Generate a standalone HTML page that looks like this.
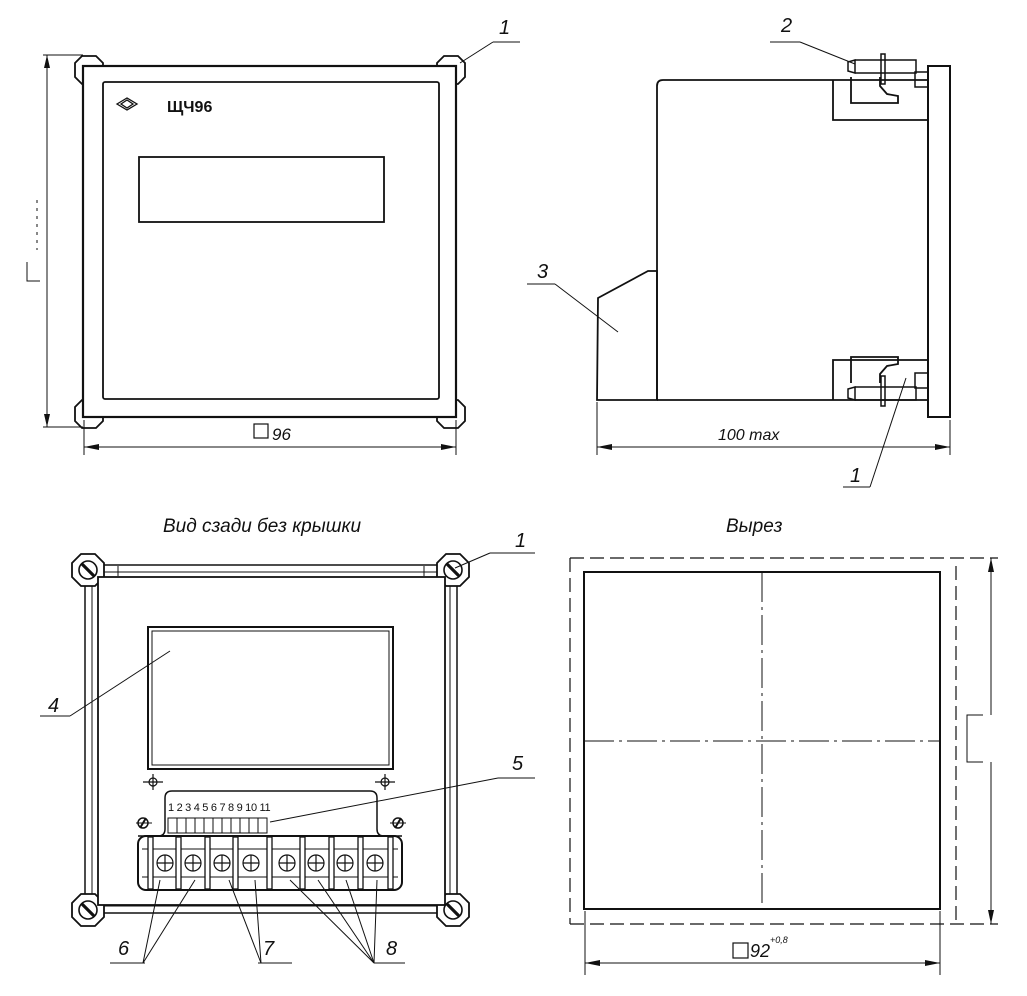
<!DOCTYPE html>
<html><head><meta charset="utf-8"><style>
html,body{margin:0;padding:0;background:#fff}
svg{display:block}
text{font-family:"Liberation Sans","DejaVu Sans",sans-serif;font-style:italic;fill:#111}
text.up{font-style:normal}
</style></head><body>
<svg width="1027" height="996" viewBox="0 0 1027 996" xmlns="http://www.w3.org/2000/svg">
<defs>
<g id="oct"><polygon points="-7,-14 7,-14 14,-7 14,7 7,14 -7,14 -14,7 -14,-7" fill="#fff" stroke="#111" stroke-width="1.8"/></g>
<g id="scr"><polygon points="-7,-16 7,-16 16,-7 16,7 7,16 -7,16 -16,7 -16,-7" fill="#fff" stroke="#111" stroke-width="1.8"/><circle r="9" fill="#fff" stroke="#111" stroke-width="1.6"/><line x1="-6" y1="-6" x2="6" y2="6" stroke="#111" stroke-width="3.2"/></g>
</defs>
<g fill="none" stroke="#111" stroke-width="1.8">
<!-- FRONT VIEW -->
<use href="#oct" x="89" y="70"/><use href="#oct" x="451" y="70"/>
<use href="#oct" x="89" y="414"/><use href="#oct" x="451" y="414"/>
<rect x="83" y="66" width="373" height="351" fill="#fff" stroke-width="2.2"/>
<rect x="103" y="82" width="336" height="317" rx="2"/>
<rect x="139" y="157" width="245" height="65"/>
<g stroke-width="1.3"><polygon points="117,104 127,98 137,104 127,110"/><polygon points="121,104 127,100 133,104 127,108"/></g>
<g stroke-width="1"><line x1="43" y1="55" x2="83" y2="55"/><line x1="43" y1="427" x2="83" y2="427"/>
<line x1="47" y1="55" x2="47" y2="427"/><line x1="84" y1="420" x2="84" y2="455"/><line x1="456" y1="420" x2="456" y2="455"/>
<line x1="84" y1="447" x2="456" y2="447"/>
<polyline points="27,262 27,281 40,281"/><line x1="37" y1="200" x2="37" y2="250" stroke-dasharray="3 5"/>
<line x1="460" y1="63" x2="493" y2="42"/><line x1="493" y1="42" x2="520" y2="42"/></g>
<polygon points="47,55 44,68 50,68" fill="#111" stroke="none"/><polygon points="47,427 44,414 50,414" fill="#111" stroke="none"/>
<polygon points="84,447 99,444 99,450" fill="#111" stroke="none"/><polygon points="456,447 441,444 441,450" fill="#111" stroke="none"/>
<rect x="254" y="424" width="14" height="14" stroke-width="1.2"/>
<!-- SIDE VIEW -->
<path d="M657,400 L657,86 Q657,80 663,80 L928,80"/>
<path d="M657,400 L928,400"/>
<rect x="928" y="66" width="22" height="351" stroke-width="2"/>
<polyline points="833,80 833,120 928,120"/><polyline points="833,400 833,360 928,360"/>
<polygon points="657,271 648,271 598,298 597,400 657,400"/>
<path d="M851,77 L851,103 L898,103 L898,96 L887,94 L880,86 L880,77"/>
<path d="M851,383 L851,357 L898,357 L898,364 L887,366 L880,374 L880,383"/>
<g stroke-width="1.5">
<path d="M855,60 L916,60 L916,73 L855,73 Z M848,62 L855,60 L855,73 L848,71 Z"/>
<rect x="881" y="54" width="4" height="30"/><rect x="915" y="72" width="13" height="15"/>
<path d="M855,387 L916,387 L916,400 L855,400 Z M848,389 L855,387 L855,400 L848,398 Z"/>
<rect x="881" y="376" width="4" height="30"/><rect x="915" y="373" width="13" height="15"/></g>
<g stroke-width="1"><line x1="597" y1="402" x2="597" y2="455"/><line x1="950" y1="420" x2="950" y2="455"/>
<line x1="597" y1="447" x2="950" y2="447"/>
<line x1="770" y1="42" x2="800" y2="42"/><line x1="800" y1="42" x2="855" y2="64"/>
<line x1="527" y1="284" x2="555" y2="284"/><line x1="555" y1="284" x2="618" y2="332"/>
<line x1="843" y1="487" x2="870" y2="487"/><line x1="870" y1="487" x2="906" y2="378"/></g>
<polygon points="597,447 612,444 612,450" fill="#111" stroke="none"/><polygon points="950,447 935,444 935,450" fill="#111" stroke="none"/>
<!-- BACK VIEW -->
<rect x="85" y="565" width="372" height="348" stroke-width="1.5"/>
<rect x="92" y="572" width="358" height="334" stroke-width="1"/>
<line x1="118" y1="566" x2="118" y2="576" stroke-width="1"/><line x1="424" y1="566" x2="424" y2="576" stroke-width="1"/>
<use href="#scr" x="88" y="570"/><use href="#scr" x="453" y="570"/><use href="#scr" x="88" y="910"/><use href="#scr" x="453" y="910"/>
<rect x="98" y="577" width="347" height="328" fill="#fff"/>
<rect x="148" y="627" width="245" height="142" stroke-width="2"/>
<rect x="152" y="631" width="237" height="134" stroke-width="1"/>
<g stroke-width="1.2"><circle cx="153" cy="782" r="4"/><line x1="143" y1="782" x2="163" y2="782"/><line x1="153" y1="774" x2="153" y2="790"/>
<circle cx="385" cy="782" r="4"/><line x1="375" y1="782" x2="395" y2="782"/><line x1="385" y1="774" x2="385" y2="790"/></g>
<path d="M138,836 L158,836 Q165,836 165,829 L165,798 Q165,791 172,791 L370,791 Q377,791 377,798 L377,829 Q377,836 384,836 L402,836" stroke-width="1.5"/>
<g stroke-width="1.5"><circle cx="143" cy="823" r="5"/><line x1="136" y1="823" x2="152" y2="823" stroke-width="1"/><line x1="140" y1="828" x2="146" y2="818" stroke-width="2"/>
<circle cx="398" cy="823" r="5"/><line x1="390" y1="823" x2="406" y2="823" stroke-width="1"/><line x1="395" y1="828" x2="401" y2="818" stroke-width="2"/></g>
<g stroke-width="1">
<rect x="168" y="818" width="9" height="15"/><rect x="177" y="818" width="9" height="15"/><rect x="186" y="818" width="9" height="15"/><rect x="195" y="818" width="9" height="15"/><rect x="204" y="818" width="9" height="15"/><rect x="213" y="818" width="9" height="15"/><rect x="222" y="818" width="9" height="15"/><rect x="231" y="818" width="9" height="15"/><rect x="240" y="818" width="9" height="15"/><rect x="249" y="818" width="9" height="15"/><rect x="258" y="818" width="9" height="15"/>
</g>
<rect x="138" y="836" width="264" height="54" rx="8" stroke-width="2" fill="#fff"/>
<g stroke-width="1"><line x1="142" y1="849" x2="398" y2="849"/><line x1="142" y1="877" x2="398" y2="877"/></g>
<g fill="#fff" stroke-width="1.3">
<rect x="148" y="837" width="5" height="52"/><rect x="176" y="837" width="5" height="52"/><rect x="205" y="837" width="5" height="52"/><rect x="233" y="837" width="5" height="52"/><rect x="267" y="837" width="5" height="52"/><rect x="300" y="837" width="5" height="52"/><rect x="329" y="837" width="5" height="52"/><rect x="358" y="837" width="5" height="52"/><rect x="388" y="837" width="5" height="52"/>
</g>
<g stroke-width="1.2">
<circle cx="165" cy="863" r="8"/><circle cx="193" cy="863" r="8"/><circle cx="222" cy="863" r="8"/><circle cx="251" cy="863" r="8"/><circle cx="287" cy="863" r="8"/><circle cx="316" cy="863" r="8"/><circle cx="345" cy="863" r="8"/><circle cx="375" cy="863" r="8"/>
<path d="M157,863h16M165,855v16M185,863h16M193,855v16M214,863h16M222,855v16M243,863h16M251,855v16M279,863h16M287,855v16M308,863h16M316,855v16M337,863h16M345,855v16M367,863h16M375,855v16"/>
</g>
<g stroke-width="1">
<line x1="40" y1="716" x2="70" y2="716"/><line x1="70" y1="716" x2="170" y2="651"/>
<line x1="498" y1="778" x2="535" y2="778"/><line x1="498" y1="778" x2="270" y2="822"/>
<line x1="110" y1="963" x2="145" y2="963"/><line x1="143" y1="963" x2="160" y2="880"/><line x1="143" y1="963" x2="195" y2="880"/>
<line x1="258" y1="963" x2="292" y2="963"/><line x1="261" y1="963" x2="229" y2="880"/><line x1="261" y1="963" x2="255" y2="880"/>
<line x1="374" y1="963" x2="405" y2="963"/><line x1="374" y1="963" x2="290" y2="880"/><line x1="374" y1="963" x2="318" y2="880"/><line x1="374" y1="963" x2="346" y2="880"/><line x1="374" y1="963" x2="377" y2="880"/>
<line x1="455" y1="568" x2="490" y2="553"/><line x1="490" y1="553" x2="535" y2="553"/>
</g>
<!-- CUTOUT -->
<g stroke-width="1.2" stroke-dasharray="14 6"><line x1="570" y1="558" x2="998" y2="558"/><line x1="570" y1="924" x2="998" y2="924"/><line x1="570" y1="558" x2="570" y2="924"/><line x1="956" y1="566" x2="956" y2="924"/></g>
<rect x="584" y="572" width="356" height="337" stroke-width="2"/>
<g stroke-width="1" stroke-dasharray="30 5 3 5"><line x1="762" y1="572" x2="762" y2="909"/><line x1="584" y1="741" x2="940" y2="741"/></g>
<g stroke-width="1"><line x1="991" y1="558" x2="991" y2="715"/><line x1="991" y1="762" x2="991" y2="924"/>
<polyline points="983,715 967,715 967,762 983,762"/>
<line x1="585" y1="911" x2="585" y2="975"/><line x1="940" y1="911" x2="940" y2="975"/><line x1="585" y1="963" x2="940" y2="963"/></g>
<polygon points="991,558 988,572 994,572" fill="#111" stroke="none"/><polygon points="991,924 988,910 994,910" fill="#111" stroke="none"/>
<polygon points="585,963 600,960 600,966" fill="#111" stroke="none"/><polygon points="940,963 925,960 925,966" fill="#111" stroke="none"/>
<rect x="733" y="943" width="15" height="15" stroke-width="1.2"/>
</g>
<text class="up" x="167" y="112" font-size="16" font-weight="bold">ЩЧ96</text>
<text x="272" y="440" font-size="17">96</text>
<text x="499" y="34" font-size="20">1</text>
<text x="718" y="440" font-size="16">100 max</text>
<text x="781" y="32" font-size="20">2</text>
<text x="537" y="278" font-size="20">3</text>
<text x="850" y="482" font-size="20">1</text>
<text x="163" y="532" font-size="19">Вид сзади без крышки</text>
<text x="726" y="532" font-size="19">Вырез</text>
<text x="515" y="547" font-size="20">1</text>
<text x="48" y="712" font-size="20">4</text>
<text x="512" y="770" font-size="20">5</text>
<text class="up" x="168" y="811" font-size="11" letter-spacing="-0.3">1 2 3 4 5 6 7 8 9 10 11</text>
<text x="118" y="955" font-size="20">6</text>
<text x="263" y="955" font-size="20">7</text>
<text x="386" y="955" font-size="20">8</text>
<text x="750" y="957" font-size="18">92</text>
<text x="770" y="943" font-size="9">+0,8</text>
</svg>
</body></html>
